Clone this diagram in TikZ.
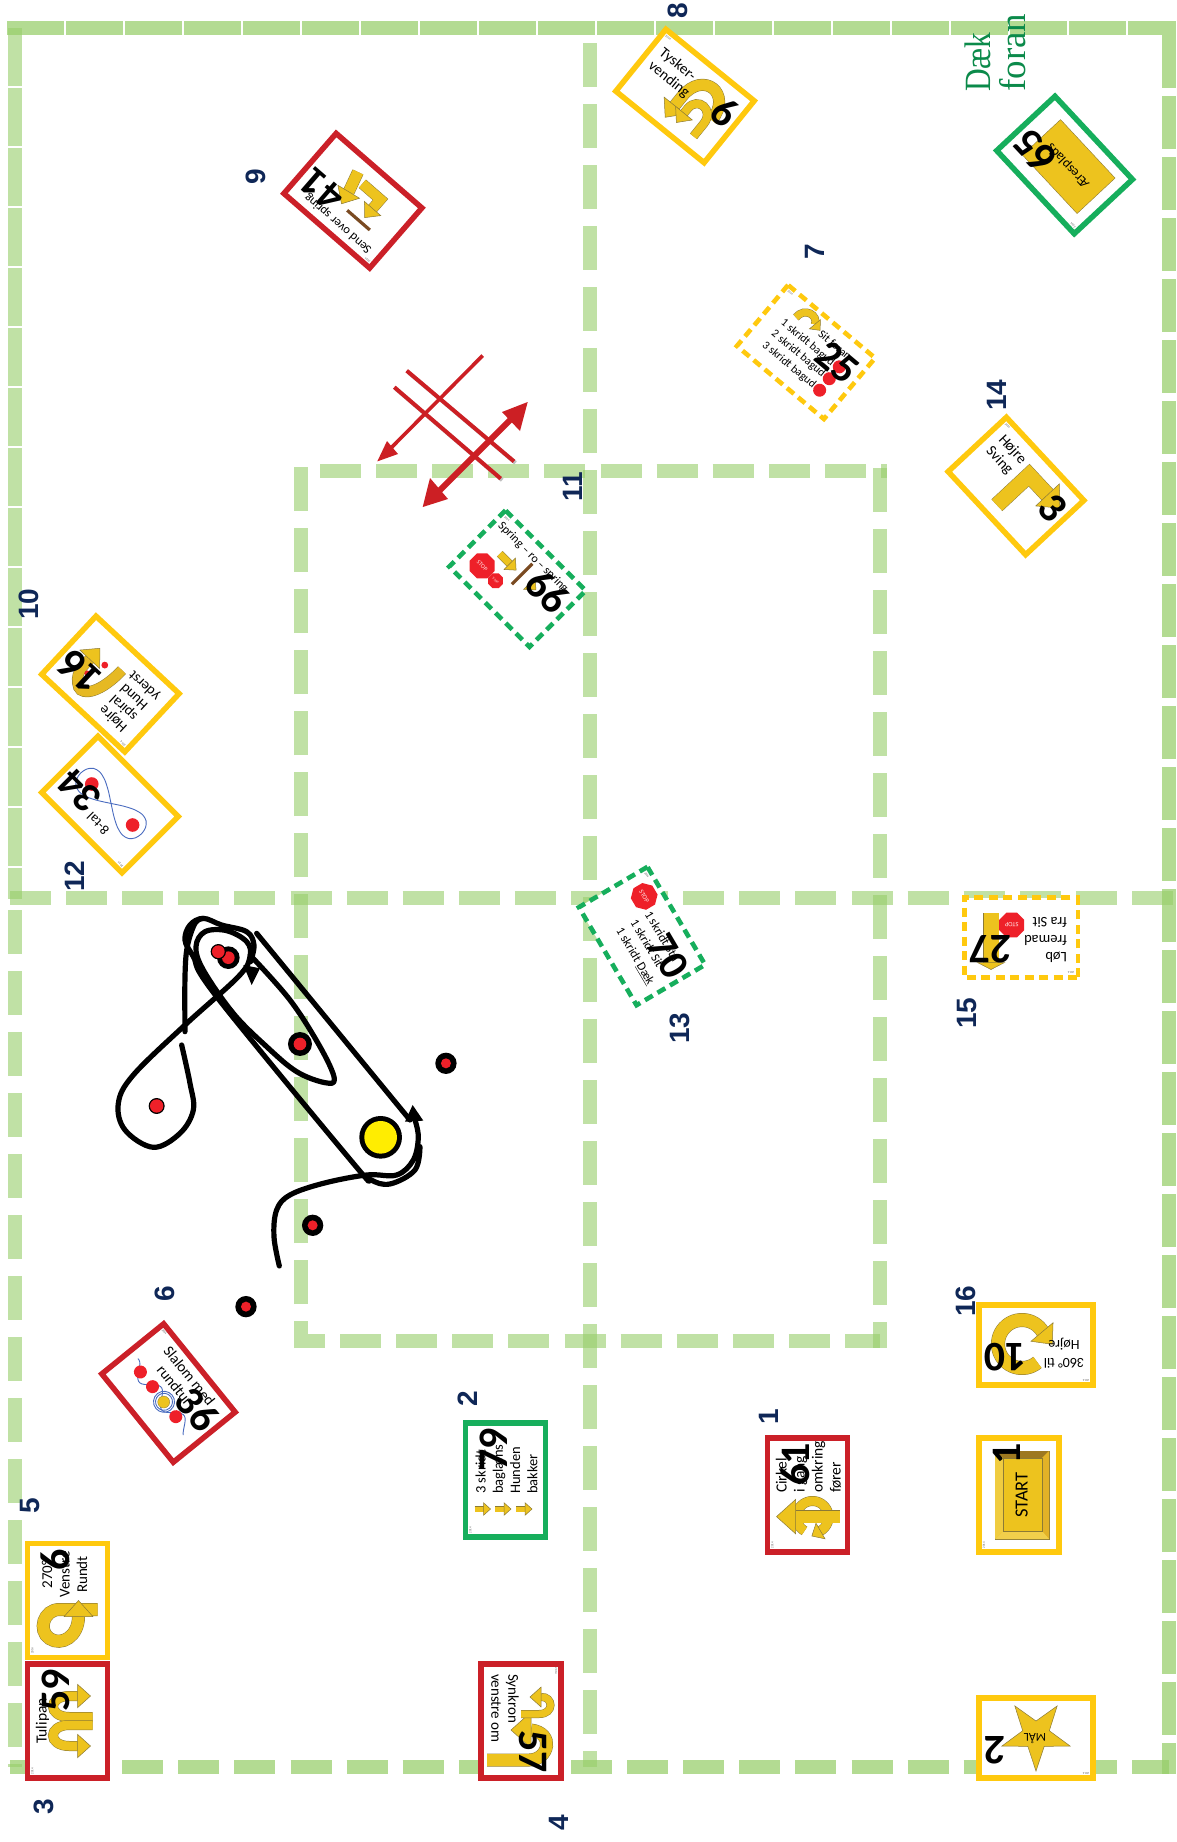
\documentclass[tikz,border=0pt]{standalone}
\usepackage{fontspec}
\usetikzlibrary{shapes.geometric}
\setmainfont{Carlito}
\newfontfamily\lblfont{Liberation Sans}
\newfontfamily\serfont{Liberation Serif}
\definecolor{cardyel}{HTML}{EDC31E}
\definecolor{edgecol}{HTML}{8C7A35}
\definecolor{fyellow}{HTML}{FFC90E}
\definecolor{fred}{HTML}{CB2028}
\definecolor{fgreen}{HTML}{16AE5C}
\definecolor{gridgreen}{HTML}{97CE69}
\definecolor{lblblue}{HTML}{0F2757}
\definecolor{stopred}{HTML}{EE2029}
\definecolor{barbrown}{HTML}{7A4A22}
\definecolor{wave}{HTML}{4A6CC0}
\definecolor{daekgreen}{HTML}{0B8A4A}
\definecolor{crossred}{HTML}{CC1F24}
\tikzset{
  gline/.style={draw=gridgreen,line width=14,opacity=.72},
  gsoft/.style={draw=gridgreen,line width=13.5,opacity=.6},
  hdash/.style={dash pattern=on 41 off 15.1},
  vdash/.style={dash pattern=on 44 off 17},
  glyph/.style={fill=cardyel,draw=edgecol,line width=.5},
  band/.style={draw=edgecol,line width=.5,double=cardyel,double distance=#1},
  ctxt/.style={inner sep=0,align=center,text=black},
  cnum/.style={inner sep=0,anchor=east,text=black,font=\fontsize{42}{42}\selectfont\bfseries},
  cyear/.style={inner sep=0,text=black!65,font=\fontsize{3}{3}\selectfont},
  solidframe/.style={line width=5.5},
  dashframe/.style={line width=4.6,dash pattern=on 9 off 5.5},
  lbl/.style={inner sep=0,rotate=90,text=lblblue,font=\fontsize{28}{28}\selectfont\lblfont\bfseries},
  trackline/.style={draw=black,line width=5.2,line cap=round,line join=round},
  stopnode/.style={regular polygon,regular polygon sides=8,fill=stopred,inner sep=0,text=white!90!red}
}
\newcommand\ctx[6][]{\node[ctxt,font=\fontsize{#4}{#5}\selectfont,#1] at (#2,#3) {#6};}
\newcommand\yhead[5][glyph]{\filldraw[#1,shift={(#2,#3)},rotate=#4] (#5,0)--(0,{-0.9*#5})--(0,{0.9*#5})--cycle;}
\newcommand\ringband[6]{\draw[band=#4] plot[domain=#5:#6,samples=40] ({#1+#3*cos(\x)},{#2+#3*sin(\x)});}
\newcommand\stopsign[5]{\node[stopnode,minimum size=#3,font=\fontsize{#4}{#4}\selectfont] at (#1,#2) {#5};}
\newcommand\hurdle[4]{\draw[barbrown,line width=3.2] (#1,#2)--(#3,#4);}
\newcommand\card[7]{%
\begin{scope}[shift={(#1,#2)},rotate=#3,transform shape]
  \fill[white] (-57,-40) rectangle (57,40);
  #7
  \draw[#4,#5] (-56.8,-39.8) rectangle (56.8,39.8);
  \node[cnum] at (52,-12) {#6};
  \node[cyear] at (-50,-35) {2014};
\end{scope}}
\begin{document}
\begin{tikzpicture}[x=1pt,y=-1pt]
\useasboundingbox (0,0) rectangle (1177,1842);
\fill[white] (0,0) rectangle (1177,1842);
% ---------- field lines
\draw[gline,dash pattern=on 57 off 2] (7,28)--(1176,28);
\draw[gsoft,dash pattern=on 58 off 2] (15,28)--(15,899);
\draw[gsoft,dash pattern=on 44 off 17] (15,910)--(15,1767);
\draw[gline,dash pattern=on 53 off 8] (1169,35)--(1169,1774);
\draw[gline,hdash] (10,1767)--(1169,1767);
\draw[gsoft,vdash] (590,43)--(590,1767);
\draw[gsoft,hdash] (10,898)--(1176,898);
\draw[gsoft,hdash] (320,471)--(887,471);
\draw[gsoft,dash pattern=on 44 off 17,dash phase=17] (301,1348)--(301,465);
\draw[gsoft,vdash] (880,468)--(880,1348);
\draw[gsoft,hdash,dash phase=24] (308,1341)--(880,1341);
% ---------- Dæk foran
\node[inner sep=0,anchor=west,rotate=90,xscale=.85,text=daekgreen,font=\fontsize{37}{37}\selectfont\serfont] at (978,92) {Dæk};
\node[inner sep=0,anchor=west,rotate=90,text=daekgreen,font=\fontsize{37}{37}\selectfont\serfont] at (1013,92) {foran};
% ---------- red cross
\draw[gray!50,line width=4] (408.2,372.2)--(515.5,462.9);
\draw[gray!50,line width=4] (395.8,388.7)--(502.2,480.1);
\draw[crossred,line width=4] (406.7,370.7)--(514,461.4);
\draw[crossred,line width=4] (394.3,387.2)--(500.7,478.6);
\coordinate (thinA) at (482.7,355.5);
\coordinate (thinB) at (390,449);
\draw[crossred,line width=3.6] (thinA)--(thinB);
\fill[crossred] (377.3,461.4)--(387,441)--(398,454)--cycle;
\coordinate (thickA) at (516,414);
\coordinate (thickB) at (435,495);
\draw[crossred,line width=6] (thickA)--(thickB);
\fill[crossred] (527.7,402)--(502,412)--(520,431)--cycle;
\fill[crossred] (422.7,507)--(448,499)--(430,478)--cycle;
% ---------- track
\begin{scope}[shift={(90,890)},x=0.3333pt,y=-0.3333pt]
  \fill[black] (630,462) circle[radius=36];
  \fill[stopred] (630,462) circle[radius=19];
  \fill[black] (1068,520) circle[radius=32];
  \fill[stopred] (1068,520) circle[radius=15];
  \fill[black] (668,1006) circle[radius=32];
  \fill[stopred] (668,1006) circle[radius=15];
  \fill[black] (468,1250) circle[radius=32];
  \fill[stopred] (468,1250) circle[radius=15];
  \fill[black] (200,648) circle[radius=24];
  \fill[stopred] (200,648) circle[radius=20];
  \fill[black] (415,203) circle[radius=34];
  \fill[stopred] (415,203) circle[radius=19];
  \fill[black] (385,185) circle[radius=23];
  \fill[stopred] (385,185) circle[radius=19];
  \fill[black] (872,742) circle[radius=64];
  \fill[yellow!95!orange] (872,742) circle[radius=49];
  \draw[trackline] plot[smooth,tension=.6] coordinates {(568,1128)(552,1040)(560,960)(600,915)(700,880)(830,855)(920,855)(970,810)(985,740)(972,680)};
  \fill[black] (968,645)--(1000,692)--(945,695)--cycle;
  \draw[trackline] (960,690)--(500,130);
  \draw[trackline] plot[smooth,tension=.6] coordinates {(990,770)(975,840)(900,882)(840,868)(790,820)(380,320)(310,200)(285,150)(300,105)(340,85)(395,105)(470,125)(492,165)(482,215)};
  \fill[black] (485,285)--(460,225)--(510,235)--cycle;
  \draw[trackline] plot[smooth,tension=.6] coordinates {(285,425)(285,260)(292,170)(315,100)(340,85)};
  \draw[trackline] plot[smooth,tension=.6] coordinates {(480,195)(600,330)(690,470)(733,565)(705,578)(620,545)(530,470)(430,370)(340,240)(318,170)(345,125)(410,122)(470,155)(480,200)(445,260)(285,405)(130,555)(85,640)(105,720)(190,772)(270,730)(310,660)(300,580)(275,465)};
\end{scope}
% ---------- cards
\card{67.5}{1600.5}{90}{fyellow}{solidframe}{6}{%
  \ctx{26}{-3}{15}{17.5}{270°\\Venstre\\Rundt}
  \draw[band=12] (-9,30)--(-9,-8) .. controls (-9,-24) and (-30,-30) .. (-38,-18) .. controls (-46,-6) and (-36,11) .. (-16,11);
  \yhead{-16}{11}{0}{16}}
\card{67.5}{1721}{90}{fred}{solidframe}{59}{%
  \draw[band=9] (4,25)--(4,2) .. controls (4,-20) and (25,-20) .. (25,2)--(25,10);
  \yhead{25}{10}{-90}{13}
  \draw[band=9] (-4,25)--(-4,2) .. controls (-4,-20) and (-25,-20) .. (-25,2)--(-25,10);
  \yhead{-25}{10}{-90}{13}
  \ctx{0}{-25}{15.5}{16}{Tulipan}}
\card{521}{1721}{-90}{fred}{solidframe}{57}{%
  \ctx[align=left,anchor=west]{-47}{16}{15}{17}{Synkron\\venstre om}
  \draw[band=12] (39,34)--(39,-8) .. controls (39,-28) and (12,-34) .. (9,-10);
  \yhead{9}{-10}{-90}{20}
  \draw[band=7] (-7,0)--(-7,-18) .. controls (-7,-34) and (-25,-32) .. (-24,-20);
  \yhead{-24}{-20}{-90}{11}}
\card{505.5}{1480}{90}{fgreen}{solidframe}{79}{%
  \ctx[align=left,anchor=west]{-14}{1}{14.5}{17.3}{3 skridt\\baglæns\\Hunden\\bakker}
  \foreach \yy in {-23,-2.5,18.5}{
    \draw[band=5] (-29,\yy-8)--(-29,\yy+1);
    \yhead{-29}{\yy+1}{-90}{7}}}
\card{168.5}{1393}{-51}{fred}{solidframe}{36}{%
  \ctx{0}{-27}{15}{16}{Slalom med}
  \ctx{-2}{-10}{15}{16}{rundtur}
  \draw[wave,line width=.9] plot[smooth,domain=-46:42,samples=45] (\x,{9+7*sin(\x*10)});
  \draw[wave,line width=.9] (4,9) circle[radius=8.5];
  \draw[wave,line width=.9] (4,9) circle[radius=10.5];
  \fill[stopred] (-34,8.6) circle[radius=6.5];
  \fill[stopred] (-15,8.4) circle[radius=6.5];
  \fill[cardyel,draw=edgecol,line width=.3] (4,9.4) circle[radius=6];
  \fill[stopred] (23,9.2) circle[radius=6.5];}
\card{807.5}{1495}{90}{fred}{solidframe}{61}{%
  \ringband{-22}{5}{16}{9}{-150}{150}
  \yhead{-36}{13}{120}{10}
  \draw[band=12] (-21.6,32)--(-21.6,-12);
  \yhead{-21.6}{-12}{90}{19}
  \ctx[align=left,anchor=west]{2}{1}{15.5}{18}{Cirkel\\i gang\\omkring\\fører}}
\card{1019}{1495}{90}{fyellow}{solidframe}{1}{%
  \fill[cardyel,draw=edgecol,line width=.4] (-44,-24) rectangle (44,30);
  \fill[black!40!cardyel!70!brown] (44,-24)--(37,-16)--(37,23)--(44,30)--cycle;
  \fill[cardyel!75!brown] (-44,30)--(-36,23)--(37,23)--(44,30)--cycle;
  \fill[cardyel!80!white] (-44,-24)--(-36,-16)--(-36,23)--(-44,30)--cycle;
  \fill[cardyel!85!white] (-44,-24)--(-36,-16)--(37,-16)--(44,-24)--cycle;
  \draw[edgecol,line width=.4] (-36,-16) rectangle (37,23);
  \ctx{0}{2.7}{18.5}{18.5}{START}}
\card{1036}{1345}{180}{fyellow}{solidframe}{10}{%
  \ringband{14}{1}{24}{13}{-130}{150}
  \yhead{-6}{13}{130}{16}
  \ctx{-28}{-8}{14}{17.5}{360° til\\Højre}}
\card{1036}{1738}{180}{fyellow}{solidframe}{2}{%
  \filldraw[glyph] (0,-33)--(8.2,-8.3)--(34.2,-8.1)--(13.3,7.3)--(21.2,32.1)--(0,17)--(-21.2,32.1)--(-13.3,7.3)--(-34.2,-8.1)--(-8.2,-8.3)--cycle;
  \ctx{1}{-1}{12}{12}{MÅL}}
\card{1021}{937.5}{180}{fyellow}{dashframe}{27}{%
  \draw[band=15] (30,24.5)--(30,-25);
  \filldraw[glyph] (30,-32)--(16.5,-25)--(43.5,-25)--cycle;
  \stopsign{9.3}{12.5}{27}{6.5}{STOP}
  \ctx[align=left,anchor=west]{-46}{-2.5}{14.5}{17.5}{Løb\\fremad\\fra Sit}}
\card{642}{936}{-59.5}{fgreen}{dashframe}{70}{%
  \stopsign{-33}{-22}{27}{6.5}{STOP}
  \ctx[align=left,anchor=west]{-18}{0}{12.5}{16.5}{1 skridt Stå\\1 skridt Sit\\1 skridt \underline{Dæk}}}
\card{517.5}{578.6}{-45}{fgreen}{dashframe}{66}{%
  \ctx{-4}{-26}{12}{12}{Spring – ro – spring}
  \stopsign{-34}{16}{27}{6}{STOP}
  \stopsign{-14}{17}{16}{3.5}{STOP}
  \draw[band=7] (-30,-5)--(-16,-5);
  \yhead{-16}{-5}{0}{9}
  \hurdle{0}{8}{0}{-21}
  \yhead{12}{-5}{0}{9}}
\card{1016}{486}{-47}{fyellow}{solidframe}{3}{%
  \ctx[align=left,anchor=west]{-46}{-13.5}{15}{17}{Højre\\Sving}
  \draw[band=15] (1,27)--(1,-17)--(28,-17);
  \yhead{28}{-17}{0}{18}}
\card{806}{352}{-40}{fyellow}{dashframe}{25}{%
  \ctx[align=left,anchor=west]{-38}{6.5}{11.5}{14.5}{1 skridt bagud\\2 skridt bagud\\3 skridt bagud}
  \ctx[align=left,anchor=west]{-2}{-24}{11.5}{12}{Sit foran}
  \draw[band=7] (-30,-20) .. controls (-30,-34) and (-14,-36) .. (-11,-27);
  \yhead{-11}{-27}{-10}{8}
  \fill[stopred] (35,-10) circle[radius=6.5];
  \fill[stopred] (35,5.5) circle[radius=6.5];
  \fill[stopred] (35,20.5) circle[radius=6.5];}
\card{685}{96}{-39}{fyellow}{solidframe}{6}{%
  \draw[band=11] (36,2) .. controls (36,-32) and (-2,-32) .. (-2,2)--(-2,14);
  \yhead{-2}{14}{-90}{15}
  \draw[band=8] (32,26)--(32,10) .. controls (32,-8) and (10,-8) .. (10,8)--(10,14);
  \yhead{10}{14}{-90}{12}
  \ctx[align=left,anchor=west]{-47}{-11}{15}{17}{Tysker-\\vending}}
\card{1064.6}{165}{133}{fgreen}{solidframe}{65}{%
  \filldraw[fill=cardyel,draw=edgecol,line width=.4] (-44,-24) rectangle (36,28);
  \ctx{-3}{2}{13.5}{13.5}{Æresplads}}
\card{352.9}{200.7}{139}{fred}{solidframe}{41}{%
  \ctx{-4}{-27}{12.5}{12.5}{Send over spring}
  \hurdle{-32}{-11}{-2}{-11}
  \draw[band=10] (4,19)--(-20,19)--(-20,7);
  \yhead{-20}{7}{90}{12}
  \draw[band=11] (15,25)--(9,4);
  \yhead{9}{4}{100}{14}}
\card{110.4}{684}{137}{fyellow}{solidframe}{16}{%
  \ctx{-26}{-0.5}{14.5}{15.2}{Højre\\spiral\\Hund\\yderst}
  \draw[draw=edgecol,line width=.5,double=cardyel!85!brown,double distance=10] (1,18) .. controls (1,-12) and (12,-28) .. (21,-24) .. controls (32,-18) and (33,-8) .. (32,4);
  \yhead{32}{4}{-90}{15}
  \fill[stopred] (17,10) circle[radius=3.4];
  \fill[stopred] (24,-8) circle[radius=3];}
\card{110}{804.5}{135}{fyellow}{solidframe}{34}{%
  \draw[wave,line width=.9] plot[smooth cycle,domain=0:345,samples=24] ({43*cos(\x)},{1.5+26*sin(2*\x)*0.55});
  \fill[stopred] (27.4,1.6) circle[radius=6.8];
  \fill[stopred] (-30.5,1.5) circle[radius=6.8];
  \ctx{-5}{-22}{13.5}{13.5}{8-tal}}
% ---------- blue labels
\node[lbl] at (769,1417) {1};
\node[lbl] at (468,1399) {2};
\node[lbl] at (44,1807) {3};
\node[lbl] at (559,1823) {4};
\node[lbl] at (30,1506) {5};
\node[lbl] at (165,1294) {6};
\node[lbl] at (815,252) {7};
\node[lbl] at (678,11) {8};
\node[lbl] at (256,177) {9};
\node[lbl] at (29,604) {10};
\node[lbl] at (573,487) {11};
\node[lbl] at (75,876) {12};
\node[lbl] at (680,1028) {13};
\node[lbl] at (997,395) {14};
\node[lbl] at (967,1013) {15};
\node[lbl] at (966,1301) {16};
\end{tikzpicture}
\end{document}
